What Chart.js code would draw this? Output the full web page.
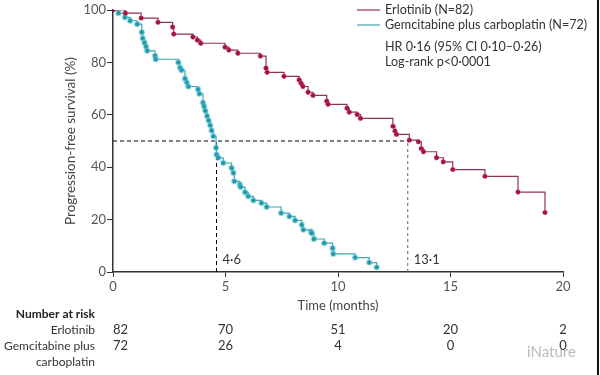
<!DOCTYPE html>
<html>
<head>
<meta charset="utf-8">
<script src="https://cdn.jsdelivr.net/npm/chart.js@4.4.1/dist/chart.umd.min.js"></script>
<style>
  body { margin: 0; background: #fff; }
  #wrap { position: relative; width: 600px; height: 375px; }
  #edge { position: absolute; left: 597px; top: 0; width: 2px; height: 375px; background: #111; }
</style>
</head>
<body>
<div id="wrap">
  <canvas id="km" width="600" height="375"></canvas>
  <div id="edge"></div>
</div>
<script>
// ============================================
// Data
// ============================================

const erlotinibTime = [0, 0.55, 1.25, 2.0, 2.65, 2.7, 3.55, 3.75, 3.9, 4.98, 5.15, 5.55, 6.55, 6.8, 6.85,
  7.6, 8.27, 8.36, 8.44, 8.67, 8.89, 9.5, 9.56, 10.4, 10.5, 10.85, 11.0, 12.44, 12.53, 12.6,
  13.17, 13.57, 13.7, 13.8, 14.38, 14.68, 15.1, 16.53, 18.0, 19.2];
const erlotinibSurv = [100, 98.8, 96.9, 95.3, 93.5, 90.8, 89.7, 88.5, 87.3, 85.8, 84.7, 83.5, 82.4, 77.8, 76.2,
  74.7, 73.3, 72.0, 70.8, 68.6, 67.4, 65.2, 64.0, 62.5, 61.0, 60.1, 58.6, 55.6, 53.8, 52.5,
  50.3, 49.7, 47.1, 45.9, 43.6, 42.0, 39.1, 36.5, 30.5, 22.7];

const gemTime = [0, 0.24, 0.53, 0.76, 1.08, 1.28, 1.32, 1.4, 1.47, 1.52, 1.87, 1.9, 2.9, 2.98, 3.05,
  3.2, 3.28, 3.35, 3.78, 3.84, 4.0, 4.05, 4.1, 4.18, 4.25, 4.32, 4.38, 4.46, 4.58, 4.6,
  4.68, 4.9, 5.27, 5.35, 5.39, 5.64, 5.67, 5.87, 6.01, 6.24, 6.6, 6.83, 7.47, 7.84, 8.09,
  8.39, 8.46, 8.8, 8.83, 8.93, 9.39, 9.76, 9.79, 10.76, 11.39, 11.72];
const gemSurv = [100, 98.8, 97.2, 95.9, 94.6, 91.5, 89.2, 87.5, 86.0, 84.4, 82.5, 81.2, 80.0, 78.0, 77.0,
  73.8, 72.3, 70.8, 69.7, 68.0, 64.6, 63.2, 61.5, 59.5, 57.8, 56.0, 54.0, 51.8, 47.4, 44.8,
  43.6, 41.6, 39.7, 37.8, 34.6, 33.3, 32.4, 30.4, 28.9, 27.3, 26.3, 24.8, 22.5, 21.2, 19.7,
  18.0, 16.1, 15.4, 14.8, 12.6, 11.0, 9.1, 6.9, 5.5, 3.6, 1.8];

const xTicks = [0, 5, 10, 15, 20];
const yTicks = [0, 20, 40, 60, 80, 100];

const riskTimes = [0, 5, 10, 15, 20];
const riskErlotinib = [82, 70, 51, 20, 2];
const riskGem = [72, 26, 4, 0, 0];

const medianErlotinib = 13.1;
const medianGem = 4.6;
const medianLevel = 50;

const legendLabels = ['Erlotinib (N=82)', 'Gemcitabine plus carboplatin (N=72)'];
const statLines = ['HR 0·16 (95% CI 0·10–0·26)', 'Log-rank p<0·0001'];

// ============================================
// Styles
// ============================================

const FONT = 'Lato, "Open Sans", sans-serif';
const RED_LINE = '#8e3554';
const RED_DOT = '#a5123f';
const TEAL_LINE = '#43a4ad';
const TEAL_DOT = '#2193a3';

const toPoints = (ts, ss) => ts.map((t, i) => ({ x: t, y: ss[i] }));

// Extra text: legend, stats, median labels, number-at-risk table
const annotations = {
  id: 'annotations',
  afterDraw(chart) {
    const { ctx, scales: { x } } = chart;
    ctx.save();
    ctx.font = `12.6px ${FONT}`;
    ctx.textBaseline = 'middle';

    // legend
    const colors = [RED_LINE, TEAL_LINE];
    legendLabels.forEach((label, i) => {
      const ly = 10 + i * 15;
      ctx.strokeStyle = colors[i];
      ctx.lineWidth = 1.2;
      ctx.beginPath();
      ctx.moveTo(357, ly);
      ctx.lineTo(380, ly);
      ctx.stroke();
      ctx.fillStyle = '#333';
      ctx.textAlign = 'left';
      ctx.fillText(label, 385, ly);
    });
    statLines.forEach((line, i) => {
      ctx.fillText(line, 385, 47 + i * 15);
    });

    // median labels
    ctx.font = `13px ${FONT}`;
    ctx.fillStyle = '#333';
    ctx.fillText('4·6', x.getPixelForValue(medianGem) + 6, 260);
    ctx.fillText('13·1', x.getPixelForValue(medianErlotinib) + 6, 260);

    // number at risk
    ctx.textAlign = 'right';
    ctx.font = `bold 12px ${FONT}`;
    ctx.fillStyle = '#222';
    ctx.fillText('Number at risk', 95, 314);
    ctx.font = `12px ${FONT}`;
    ctx.fillStyle = '#333';
    ctx.fillText('Erlotinib', 95, 330);
    ctx.fillText('Gemcitabine plus', 95, 346);
    ctx.fillText('carboplatin', 95, 362);

    ctx.font = `13px ${FONT}`;
    riskTimes.forEach((t, i) => {
      const px = x.getPixelForValue(t);
      ctx.textAlign = i === 0 ? 'left' : 'center';
      ctx.fillText(String(riskErlotinib[i]), px, 330);
      ctx.fillText(String(riskGem[i]), px, 346);
    });

    // watermark
    ctx.textAlign = 'left';
    ctx.font = `15px ${FONT}`;
    ctx.fillStyle = 'rgba(140,140,140,0.6)';
    ctx.fillText('iNature', 527, 352);
    ctx.restore();
  }
};

new Chart(document.getElementById('km'), {
  type: 'scatter',
  data: {
    datasets: [
      {
        label: 'Erlotinib',
        data: toPoints(erlotinibTime, erlotinibSurv),
        showLine: true,
        stepped: true,
        borderColor: RED_LINE,
        borderWidth: 1.2,
        pointRadius: 2.4,
        pointBackgroundColor: RED_DOT,
        pointBorderColor: 'rgba(210,90,130,0.35)',
        pointBorderWidth: 1
      },
      {
        label: 'Gemcitabine plus carboplatin',
        data: toPoints(gemTime, gemSurv),
        showLine: true,
        stepped: true,
        borderColor: TEAL_LINE,
        borderWidth: 1.2,
        pointRadius: ctx => (ctx.dataIndex === 0 ? 0 : 2.4),
        pointBackgroundColor: TEAL_DOT,
        pointBorderColor: 'rgba(90,200,215,0.45)',
        pointBorderWidth: 1.8
      },
      {
        label: 'median-h',
        data: [{ x: 0, y: medianLevel }, { x: medianErlotinib, y: medianLevel }],
        showLine: true,
        borderColor: '#000',
        borderWidth: 1,
        borderDash: [4, 3],
        pointRadius: 0
      },
      {
        label: 'median-gem',
        data: [{ x: medianGem, y: 0 }, { x: medianGem, y: medianLevel }],
        showLine: true,
        borderColor: '#000',
        borderWidth: 1,
        borderDash: [4, 3],
        pointRadius: 0
      },
      {
        label: 'median-erl',
        data: [{ x: medianErlotinib, y: 0 }, { x: medianErlotinib, y: medianLevel }],
        showLine: true,
        borderColor: '#666',
        borderWidth: 1,
        borderDash: [3, 3],
        pointRadius: 0
      }
    ]
  },
  options: {
    responsive: false,
    animation: false,
    layout: { padding: { left: 60, right: 37, top: 10, bottom: 57 } },
    plugins: {
      legend: { display: false },
      tooltip: { enabled: false }
    },
    scales: {
      x: {
        type: 'linear',
        min: 0,
        max: 20,
        afterBuildTicks: s => { s.ticks = xTicks.map(v => ({ value: v })); },
        afterFit: s => { s.height = 46; },
        grid: { display: true, drawOnChartArea: false, drawTicks: true, tickLength: 5, color: '#333' },
        border: { display: true, color: '#333', width: 1.5 },
        ticks: { color: '#555', padding: 2, font: { family: FONT, size: 13 } },
        title: {
          display: true,
          text: 'Time (months)',
          color: '#444',
          font: { family: FONT, size: 13 },
          padding: { top: 0, bottom: 4 }
        }
      },
      y: {
        min: 0,
        max: 100,
        afterBuildTicks: s => { s.ticks = yTicks.map(v => ({ value: v })); },
        afterFit: s => { s.width = 53; },
        grid: { display: true, drawOnChartArea: false, drawTicks: true, tickLength: 6, color: '#333' },
        border: { display: true, color: '#333', width: 1.5 },
        ticks: { color: '#555', padding: 1, font: { family: FONT, size: 13 } },
        title: {
          display: true,
          text: 'Progression-free survival (%)',
          color: '#444',
          font: { family: FONT, size: 13.5 },
          padding: { top: 3, bottom: 4 }
        }
      }
    }
  },
  plugins: [annotations]
});
</script>
</body>
</html>
